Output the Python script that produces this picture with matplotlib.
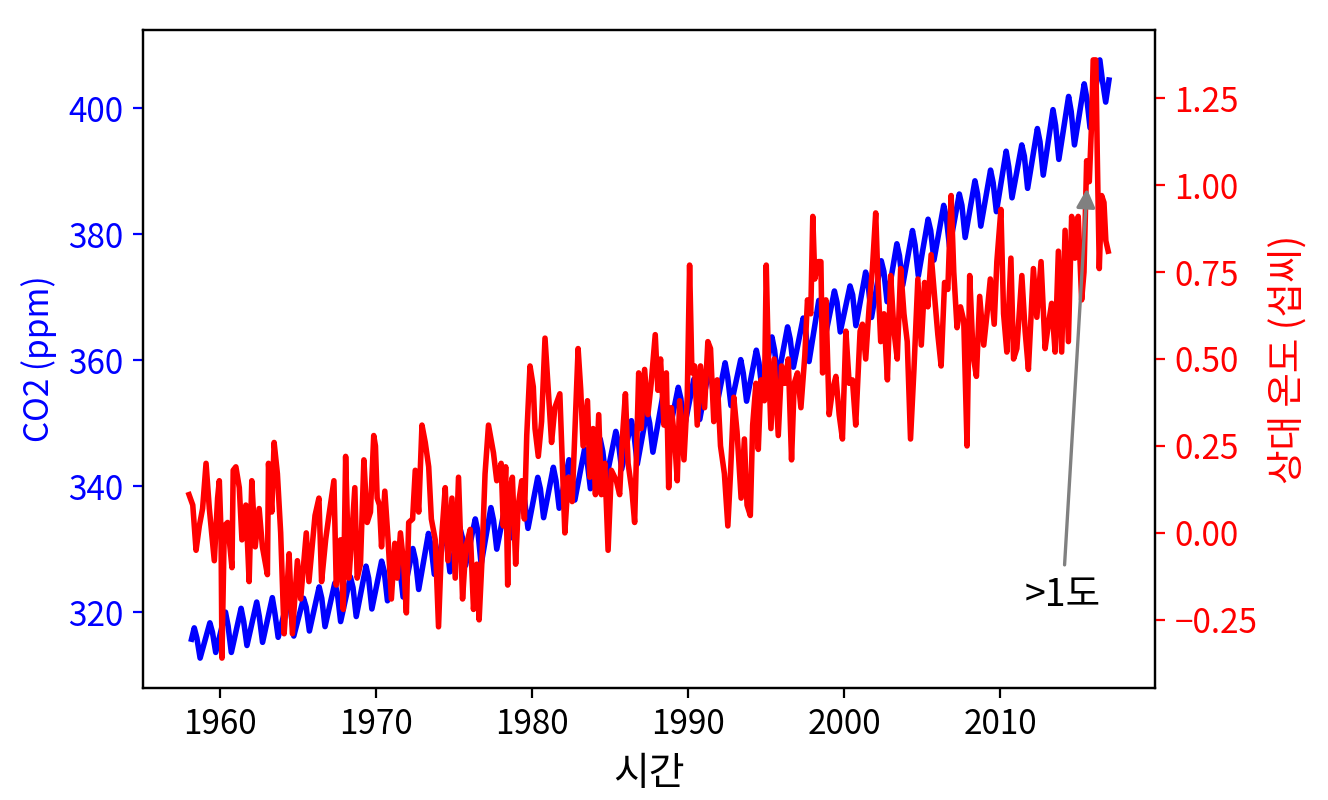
import numpy as np
import matplotlib
matplotlib.use("Agg")
import matplotlib.pyplot as plt

plt.rcParams['font.family'] = ['Noto Sans CJK KR', 'DejaVu Sans']

# Mauna Loa CO2 (ppm): first/last month, then May peak, Jul and Sep/Oct trough per year
co2_start = (1958.2, 315.7)
co2_end = (2016.96, 404.5)
co2_years = list(range(1958, 2017))
co2_peaks = [317.5, 318.3, 320.0, 320.6, 321.6, 322.3, 322.2, 322.2, 324.0, 324.6,
             325.6, 327.3, 328.1, 328.9, 330.1, 332.5, 332.4, 333.5, 334.8, 336.6,
             338.0, 339.3, 341.4, 343.0, 344.2, 345.9, 347.5, 348.7, 350.4, 352.0,
             354.2, 355.7, 357.0, 359.0, 359.6, 360.1, 361.6, 363.7, 365.3, 366.7,
             369.5, 371.0, 371.8, 374.0, 375.8, 378.5, 380.6, 382.4, 384.6, 386.4,
             388.5, 390.2, 393.2, 394.2, 396.8, 399.8, 401.9, 403.9, 407.7]
co2_jul = [315.9, 316.8, 317.8, 318.5, 319.3, 319.8, 320.4, 320.8, 322.2, 323.0,
           323.9, 325.4, 326.5, 327.1, 328.3, 330.5, 331.0, 331.9, 332.8, 334.6,
           336.2, 337.6, 339.6, 340.9, 342.3, 343.9, 345.5, 346.9, 348.2, 350.0,
           352.4, 353.9, 355.2, 356.4, 357.3, 357.9, 359.6, 361.6, 363.4, 364.5,
           367.5, 369.2, 370.4, 371.9, 374.1, 376.6, 378.3, 380.6, 382.7, 384.6,
           386.4, 388.2, 390.7, 392.4, 394.7, 397.3, 399.5, 401.6, 404.4]
co2_troughs = [312.7, 313.6, 313.6, 314.7, 315.2, 316.0, 316.2, 317.0, 317.7, 318.5,
               319.3, 320.5, 321.8, 322.4, 323.6, 326.0, 326.4, 327.4, 327.6, 330.0,
               331.8, 333.3, 335.0, 336.5, 337.8, 339.6, 341.0, 342.7, 343.5, 345.4,
               348.0, 349.2, 350.6, 351.7, 352.8, 353.5, 355.1, 357.0, 358.9, 359.8,
               363.3, 364.5, 365.5, 366.8, 369.3, 371.9, 373.4, 375.9, 378.0, 379.5,
               381.3, 383.6, 385.8, 387.3, 389.4, 391.9, 394.2, 396.9, 401.0]
peak_month = 5
jul_month = 7
trough_month = 9.5

# relative temperature (deg C)
temp_t = [1958.04, 1958.28, 1958.49, 1958.70, 1958.91, 1959.13, 1959.34, 1959.66, 1959.87, 1959.98,
          1960.09, 1960.15, 1960.30, 1960.51, 1960.79, 1960.87, 1961.04, 1961.26, 1961.43, 1961.68,
          1961.89, 1962.06, 1962.28, 1962.53, 1962.74, 1963.06, 1963.13, 1963.34, 1963.49, 1963.70,
          1963.91, 1964.13, 1964.28, 1964.45, 1964.66, 1964.98, 1965.19, 1965.55, 1965.72, 1966.11,
          1966.36, 1966.53, 1966.79, 1967.00, 1967.32, 1967.47, 1967.74, 1967.92, 1968.07, 1968.28,
          1968.39, 1968.66, 1968.81, 1969.02, 1969.24, 1969.45, 1969.66, 1969.87, 1969.98, 1970.09,
          1970.24, 1970.37, 1970.58, 1970.79, 1971.00, 1971.22, 1971.37, 1971.58, 1971.79, 1971.96,
          1972.11, 1972.36, 1972.53, 1972.75, 1972.96, 1973.17, 1973.39, 1973.56, 1973.81, 1974.02,
          1974.24, 1974.45, 1974.62, 1974.88, 1975.09, 1975.30, 1975.56, 1975.77, 1976.05, 1976.26,
          1976.47, 1976.62, 1976.79, 1977.00, 1977.22, 1977.54, 1977.75, 1978.03, 1978.17, 1978.32,
          1978.45, 1978.54, 1978.75, 1978.96, 1979.13, 1979.35, 1979.52, 1979.67, 1979.88, 1980.09,
          1980.20, 1980.41, 1980.62, 1980.84, 1981.05, 1981.26, 1981.47, 1981.79, 1982.11, 1982.33,
          1982.58, 1982.96, 1983.13, 1983.28, 1983.56, 1983.71, 1983.92, 1984.07, 1984.28, 1984.45,
          1984.67, 1984.88, 1985.09, 1985.41, 1985.62, 1985.79, 1985.99, 1986.16, 1986.41, 1986.58,
          1986.84, 1987.00, 1987.22, 1987.43, 1987.64, 1987.90, 1988.07, 1988.24, 1988.46, 1988.61,
          1988.76, 1988.93, 1989.14, 1989.31, 1989.46, 1989.74, 1989.95, 1990.10, 1990.25, 1990.42,
          1990.59, 1990.80, 1991.06, 1991.27, 1991.44, 1991.65, 1991.87, 1992.08, 1992.33, 1992.55,
          1992.72, 1992.93, 1993.14, 1993.40, 1993.61, 1993.78, 1993.99, 1994.14, 1994.35, 1994.50,
          1994.67, 1994.89, 1995.01, 1995.14, 1995.31, 1995.52, 1995.78, 1995.99, 1996.20, 1996.42,
          1996.63, 1996.80, 1997.01, 1997.23, 1997.48, 1997.65, 1997.86, 1997.99, 1998.12, 1998.33,
          1998.51, 1998.62, 1998.83, 1999.04, 1999.25, 1999.47, 1999.68, 1999.89, 2000.11, 2000.32,
          2000.53, 2000.74, 2001.02, 2001.17, 2001.38, 2001.60, 2001.81, 2002.02, 2002.17, 2002.34,
          2002.55, 2002.77, 2002.98, 2003.19, 2003.40, 2003.62, 2003.83, 2004.04, 2004.25, 2004.47,
          2004.72, 2004.94, 2005.15, 2005.36, 2005.57, 2005.79, 2006.00, 2006.21, 2006.43, 2006.64,
          2006.85, 2007.02, 2007.23, 2007.45, 2007.66, 2007.87, 2008.04, 2008.26, 2008.47, 2008.68,
          2008.94, 2009.15, 2009.36, 2009.61, 2009.78, 2010.04, 2010.21, 2010.42, 2010.68, 2010.85,
          2011.06, 2011.38, 2011.59, 2011.80, 2012.12, 2012.34, 2012.61, 2012.87, 2013.08, 2013.29,
          2013.51, 2013.72, 2013.93, 2014.15, 2014.36, 2014.57, 2014.78, 2014.99, 2015.21, 2015.36,
          2015.53, 2015.70, 2015.85, 2015.95, 2016.12, 2016.21, 2016.34, 2016.49, 2016.64, 2016.76,
          2016.91]
temp_v = [0.11, 0.08, -0.05, 0.02, 0.07, 0.20, 0.07, -0.08, 0.10, 0.15,
          0.00, -0.36, 0.02, 0.03, -0.10, 0.18, 0.19, 0.13, -0.02, 0.08,
          -0.14, 0.15, -0.04, 0.07, -0.04, -0.12, 0.20, 0.06, 0.26, 0.17,
          0.00, -0.29, -0.19, -0.06, -0.29, -0.08, -0.19, 0.00, -0.14, 0.05,
          0.10, -0.14, -0.02, 0.05, 0.15, -0.15, -0.02, -0.22, 0.22, -0.13,
          -0.06, 0.13, -0.13, -0.09, 0.21, 0.03, 0.06, 0.28, 0.25, 0.10,
          0.08, -0.04, 0.12, -0.02, -0.19, -0.03, -0.13, 0.00, -0.09, -0.23,
          0.03, 0.04, 0.18, 0.06, 0.31, 0.26, 0.19, 0.04, -0.02, -0.27,
          0.00, 0.13, -0.08, 0.10, -0.13, 0.16, -0.19, -0.04, 0.01, -0.22,
          -0.09, -0.25, -0.09, 0.17, 0.31, 0.23, 0.15, 0.20, 0.02, 0.19,
          -0.15, 0.11, 0.16, -0.09, 0.08, 0.15, 0.04, 0.28, 0.48, 0.42,
          0.30, 0.22, 0.32, 0.56, 0.41, 0.26, 0.36, 0.40, 0.00, 0.16,
          0.09, 0.53, 0.41, 0.25, 0.38, 0.16, 0.30, 0.11, 0.34, 0.11,
          0.20, -0.05, 0.18, 0.15, 0.11, 0.27, 0.40, 0.20, 0.12, 0.03,
          0.46, 0.30, 0.47, 0.34, 0.43, 0.57, 0.41, 0.50, 0.31, 0.46,
          0.13, 0.36, 0.27, 0.15, 0.38, 0.21, 0.39, 0.77, 0.46, 0.48,
          0.31, 0.48, 0.36, 0.55, 0.53, 0.32, 0.44, 0.25, 0.17, 0.02,
          0.17, 0.39, 0.29, 0.10, 0.27, 0.08, 0.05, 0.31, 0.43, 0.24,
          0.44, 0.38, 0.77, 0.51, 0.30, 0.50, 0.28, 0.48, 0.43, 0.50,
          0.21, 0.43, 0.46, 0.36, 0.51, 0.67, 0.63, 0.91, 0.73, 0.78,
          0.78, 0.46, 0.67, 0.34, 0.41, 0.45, 0.34, 0.27, 0.58, 0.43,
          0.44, 0.31, 0.58, 0.60, 0.50, 0.65, 0.76, 0.92, 0.72, 0.55,
          0.63, 0.44, 0.74, 0.58, 0.50, 0.76, 0.63, 0.55, 0.27, 0.47,
          0.73, 0.54, 0.72, 0.65, 0.80, 0.68, 0.57, 0.48, 0.72, 0.70,
          0.97, 0.75, 0.59, 0.65, 0.61, 0.25, 0.74, 0.51, 0.45, 0.68,
          0.54, 0.63, 0.73, 0.60, 0.78, 0.93, 0.63, 0.52, 0.79, 0.50,
          0.53, 0.74, 0.58, 0.47, 0.76, 0.62, 0.78, 0.53, 0.60, 0.66,
          0.52, 0.81, 0.52, 0.87, 0.55, 0.91, 0.79, 0.91, 0.67, 0.75,
          1.07, 1.01, 1.18, 1.36, 1.36, 1.09, 0.76, 0.97, 0.95, 0.84,
          0.81]

# build the co2 time series from the monthly lists
co2_t = [co2_start[0]]
co2_v = [co2_start[1]]
for yr, pk, jul, tr in zip(co2_years, co2_peaks, co2_jul, co2_troughs):
    co2_t += [yr + (peak_month - 0.5) / 12, yr + (jul_month - 0.5) / 12,
              yr + (trough_month - 0.5) / 12]
    co2_v += [pk, jul, tr]
co2_t.append(co2_end[0])
co2_v.append(co2_end[1])

fig, ax = plt.subplots(figsize=(6.64, 4), dpi=200)
fig.subplots_adjust(left=0.1077, right=0.8697, top=0.9625, bottom=0.14)

ax.plot(co2_t, co2_v, color='blue', lw=2)
ax.set_xlabel('시간', fontsize=14)
ax.set_ylabel('CO2 (ppm)', color='blue', fontsize=12)
ax.tick_params(axis='y', colors='blue', labelsize=12)
ax.tick_params(axis='x', labelsize=12)
ax.set_xticks([1960, 1970, 1980, 1990, 2000, 2010])

ax2 = ax.twinx()
ax2.plot(temp_t, temp_v, color='red', lw=2)
ax2.set_ylabel('상대 온도 (섭씨)', color='red', fontsize=13.5)
ax2.tick_params(axis='y', colors='red', labelsize=12)
ax2.set_yticks([-0.25, 0.0, 0.25, 0.5, 0.75, 1.0, 1.25])

ax2.annotate('>1도', xy=(2015.55, 0.99), xytext=(2014.0, -0.18),
             ha='center', va='center', fontsize=13.5,
             arrowprops=dict(arrowstyle='-|>', color='gray', lw=1.2,
                             mutation_scale=14, shrinkB=0))

fig.savefig('out.png')
